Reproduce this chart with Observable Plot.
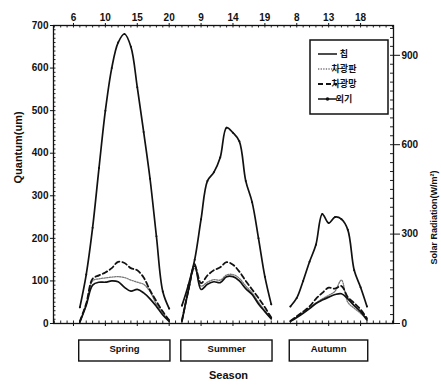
<!DOCTYPE html>
<html>
<head>
<meta charset="utf-8">
<script src="https://cdn.jsdelivr.net/npm/d3@7"></script>
<script src="https://cdn.jsdelivr.net/npm/@observablehq/plot@0.6"></script>
<style>
  body { margin: 0; background: #fff; }
  #chart svg { background: #fff; }
</style>
</head>
<body>
<div id="chart"></div>
<script>
// Seasons and the hourly sampling of each day
const seasons = ["Spring", "Summer", "Autumn"];
const seasonStartSlot = [1, 17, 34]; // first hourly slot of each season on the shared x axis
const springHours = [6, 7, 8, 9, 10, 11, 12, 13, 14, 15, 16, 17, 18, 19, 20];
const summerHours = [6, 7, 8, 9, 10, 11, 12, 13, 14, 15, 16, 17, 18, 19, 20];
const autumnHours = [7, 8, 9, 10, 11, 12, 13, 14, 15, 16, 17, 18, 19];

// Legend names of the four series
const seriesNames = ["칩", "차광판", "차광망", "외기"];

// Quantum readings (left axis units)
const springBare    = [3, 43, 90, 97, 97, 100, 98, 85, 76, 80, 72, 58, 40, 20, 5];
const springPanel   = [5, 45, 100, 105, 107, 109, 110, 108, 102, 97, 92, 75, 45, 24, 6];
const springNet     = [5, 47, 105, 113, 120, 130, 145, 142, 130, 125, 108, 78, 52, 28, 8];
const springOutside = [38, 115, 225, 365, 500, 600, 660, 680, 650, 555, 450, 340, 205, 75, 35];

const summerBare    = [5, 77, 140, 80, 92, 98, 96, 110, 110, 100, 82, 68, 46, 28, 11];
const summerPanel   = [6, 77, 130, 88, 97, 103, 102, 114, 115, 106, 88, 72, 50, 30, 12];
const summerNet     = [7, 77, 135, 95, 113, 125, 132, 144, 138, 122, 100, 80, 60, 38, 14];
const summerOutside = [42, 90, 150, 245, 335, 355, 390, 460, 448, 428, 335, 285, 200, 110, 45];

const autumnBare    = [5, 14, 24, 35, 47, 55, 62, 68, 70, 58, 42, 28, 8];
const autumnPanel   = [5, 15, 26, 37, 48, 58, 66, 76, 102, 50, 36, 24, 9];
const autumnNet     = [6, 17, 28, 40, 58, 72, 84, 82, 88, 62, 48, 33, 12];
const autumnOutside = [40, 60, 100, 145, 185, 257, 236, 250, 245, 220, 125, 85, 40];

// Axis ticks
const majorSlots = [0, 5, 10, 15, 20, 25, 30, 35, 40, 45];
const topTickLabels = ["6", "10", "15", "20", "9", "14", "19", "8", "13", "18"];
const leftTicks = [0, 100, 200, 300, 400, 500, 600, 700];
const rightTicks = [0, 300, 600, 900];
const quantumMax = 700;   // left axis top
const radiationMax = 1000; // right axis top

// Build a tidy table from the arrays
const seasonHours = [springHours, summerHours, autumnHours];
const seasonSeries = [
  [springBare, springPanel, springNet, springOutside],
  [summerBare, summerPanel, summerNet, summerOutside],
  [autumnBare, autumnPanel, autumnNet, autumnOutside]
];
const rows = [];
seasons.forEach((season, s) => {
  const hours = seasonHours[s];
  seriesNames.forEach((name, k) => {
    seasonSeries[s][k].forEach((v, i) => {
      rows.push({season, series: name, hour: hours[i], slot: seasonStartSlot[s] + (hours[i] - hours[0]), value: v});
    });
  });
});
const of = name => rows.filter(d => d.series === name);

const toLeft = r => r * quantumMax / radiationMax;
const minorSlots = d3.range(-3, 51);
const leftMinor = d3.range(0, quantumMax + 1, 10);
const rightMinor = d3.range(0, radiationMax, 30).map(toLeft);

const font = "'Liberation Sans', Arial, sans-serif";
const innerH = 389 - 25 - 66;
const innerW = 441 - 53 - 48;
const curve = "catmull-rom";

const chart = Plot.plot({
  width: 441,
  height: 389,
  marginTop: 25,
  marginRight: 48,
  marginBottom: 66,
  marginLeft: 53,
  x: {domain: [-3.13, 50.16], axis: null},
  y: {domain: [0, quantumMax], axis: null},
  style: {fontFamily: font, fontSize: "10px", fontWeight: "bold", color: "#111", background: "#fff"},
  marks: [
    // inward minor ticks on all four sides
    Plot.tickX(minorSlots, {x: d => d, insetBottom: innerH - 2.5, stroke: "#222"}),
    Plot.tickX(minorSlots, {x: d => d, insetTop: innerH - 2.5, stroke: "#222"}),
    Plot.tickY(leftMinor, {y: d => d, insetRight: innerW - 2.5, stroke: "#222"}),
    Plot.tickY(rightMinor, {y: d => d, insetLeft: innerW - 3, stroke: "#222"}),
    Plot.frame({stroke: "#111", strokeWidth: 1.3}),
    Plot.axisX(majorSlots, {anchor: "top", tickSize: 3, tickPadding: 2, label: null,
      tickFormat: d => topTickLabels[majorSlots.indexOf(d)], letterSpacing: "-0.5px"}),
    Plot.axisX(majorSlots, {anchor: "bottom", tickSize: 3, label: null, tickFormat: () => ""}),
    Plot.axisY(leftTicks, {anchor: "left", tickSize: 3, tickPadding: 2, label: null, letterSpacing: "-0.6px"}),
    Plot.axisY(rightTicks.map(toLeft), {anchor: "right", tickSize: 6, tickPadding: 2, label: null,
      letterSpacing: "-0.6px", tickFormat: d => String(rightTicks[rightTicks.map(toLeft).indexOf(d)])}),

    // series
    Plot.line(of("외기"), {x: "slot", y: "value", z: "season", curve, stroke: "#111", strokeWidth: 1.7}),
    Plot.dot(of("외기"), {x: "slot", y: "value", r: 1, fill: "#111", stroke: null}),
    Plot.line(of("차광판"), {x: "slot", y: "value", z: "season", curve, stroke: "#777", strokeWidth: 1.3, strokeDasharray: "1.3,1.3"}),
    Plot.line(of("차광망"), {x: "slot", y: "value", z: "season", curve, stroke: "#111", strokeWidth: 1.8, strokeDasharray: "5,3"}),
    Plot.line(of("칩"), {x: "slot", y: "value", z: "season", curve, stroke: "#111", strokeWidth: 1.7}),

    // season boxes under the axis
    Plot.rect(seasons, {
      x1: (d, i) => seasonStartSlot[i] - 0.1,
      x2: (d, i) => seasonStartSlot[i] + seasonHours[i].length - 1 + 0.2,
      insetTop: innerH + 17, insetBottom: -38,
      fill: "none", stroke: "#111", strokeWidth: 1.4
    }),
    Plot.text(seasons, {
      x: (d, i) => seasonStartSlot[i] + (seasonHours[i].length - 1) / 2,
      frameAnchor: "bottom", dy: 28, text: d => d, fontSize: 9.5, letterSpacing: "-0.4px"
    }),
    Plot.text(["Season"], {frameAnchor: "bottom", dx: 5, dy: 55, text: d => d, fontSize: 11, letterSpacing: "-0.4px"}),
    Plot.text(["Quantum(um)"], {frameAnchor: "left", rotate: -90, dx: -35, dy: 9, text: d => d, fontSize: 11, letterSpacing: "-0.5px"}),
    Plot.text(["Solar Radiation(W/m²)"], {frameAnchor: "right", rotate: -90, dx: 41, dy: -4, text: d => d, fontSize: 9, letterSpacing: "-0.5px"})
  ]
});

// Legend box in the upper right of the plot area
const svg = d3.select(chart);
const lg = svg.append("g").attr("transform", "translate(310,40)");
lg.append("rect").attr("width", 78).attr("height", 74)
  .attr("fill", "#fff").attr("stroke", "#111").attr("stroke-width", 1.5);
const legendStyles = [
  {stroke: "#111", width: 1.5, dash: null, dot: false},
  {stroke: "#777", width: 1.3, dash: "1.3,1.3", dot: false},
  {stroke: "#111", width: 1.8, dash: "5,3", dot: false},
  {stroke: "#111", width: 1.5, dash: null, dot: true}
];
seriesNames.forEach((name, i) => {
  const st = legendStyles[i];
  const y = 14 + i * 15;
  lg.append("line").attr("x1", 8).attr("x2", 27).attr("y1", y).attr("y2", y)
    .attr("stroke", st.stroke).attr("stroke-width", st.width)
    .attr("stroke-dasharray", st.dash);
  if (st.dot) lg.append("circle").attr("cx", 17.5).attr("cy", y).attr("r", 1.8).attr("fill", "#111");
  lg.append("text").attr("x", 34).attr("y", y).attr("dy", "0.35em")
    .attr("font-family", "'Noto Sans CJK KR', sans-serif").attr("font-weight", "bold")
    .attr("font-size", 9).attr("fill", "#111").text(name);
});

document.getElementById("chart").appendChild(chart);
</script>
</body>
</html>
